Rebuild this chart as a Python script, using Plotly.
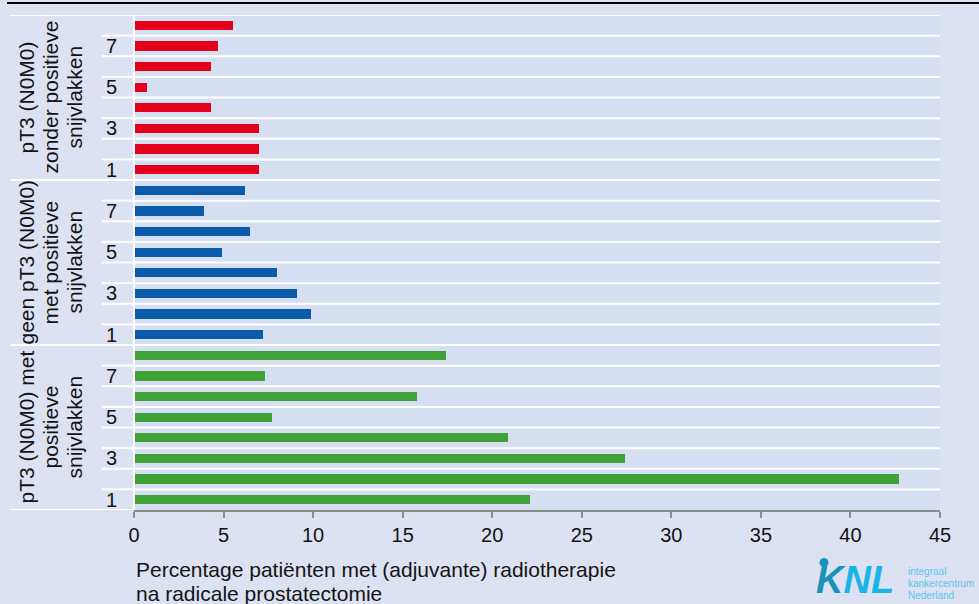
import plotly.graph_objects as go

# Percentage of patients receiving (adjuvant) radiotherapy after radical prostatectomy,
# per hospital rank (1..8) within each patient group.
ranks = [1, 2, 3, 4, 5, 6, 7, 8]
rank_labels = ["1", "", "3", "", "5", "", "7", ""]

group_lines = [
    ["pT3 (N0M0) met", "positieve", "snijvlakken"],
    ["geen pT3 (N0M0)", "met positieve", "snijvlakken"],
    ["pT3 (N0M0)", "zonder positieve", "snijvlakken"],
]
pos_margin_pt3 = [22.1, 42.7, 27.4, 20.9, 7.7, 15.8, 7.3, 17.4]
pos_margin_not_pt3 = [7.2, 9.9, 9.1, 8.0, 4.9, 6.5, 3.9, 6.2]
neg_margin_pt3 = [7.0, 7.0, 7.0, 4.3, 0.7, 4.3, 4.7, 5.5]

series = [pos_margin_pt3, pos_margin_not_pt3, neg_margin_pt3]
colors = ["#3FA136", "#0A5BAA", "#E2001A"]

x_ticks = [0, 5, 10, 15, 20, 25, 30, 35, 40, 45]
axis_title_lines = ["Percentage patiënten met (adjuvante) radiotherapie",
                    "na radicale prostatectomie"]

FONT = "Liberation Sans, Arial, sans-serif"
PAGE_BG = "#DCE2F2"
PLOT_BG = "#D6DEF2"
TEXT = "#141414"

# plot-area geometry in pixels
W, H = 979, 604
L, R, T, B = 134, 940, 15, 510


def px_x(x):
    return (x - L) / (R - L)


def px_y(y):
    return 1 - (y - T) / (B - T)


n = len(ranks)
fig = go.Figure()

tickvals, ticktext = [], []
for g, (vals, col) in enumerate(zip(series, colors)):
    ys = [g * n + (r - 1) for r in ranks]
    fig.add_trace(go.Bar(
        x=vals, y=ys, orientation="h", width=0.45,
        marker=dict(color=col, line=dict(width=0)),
        hoverinfo="x", showlegend=False,
    ))
    tickvals += ys
    ticktext += rank_labels

total = n * len(series)
shapes = []
# white row separators across the plot area and the rank-label column
for k in range(total + 1):
    yb = k - 0.5
    is_group_edge = (k % n == 0)
    if k > 0:
        shapes.append(dict(type="line", xref="paper", yref="y", x0=0, x1=1,
                           y0=yb, y1=yb, line=dict(color="white", width=2), layer="below"))
    x_left = px_x(10) if is_group_edge else px_x(102)
    shapes.append(dict(type="line", xref="paper", yref="y", x0=x_left, x1=0,
                       y0=yb, y1=yb, line=dict(color="white", width=2)))
# vertical white line along the category axis
shapes.append(dict(type="line", xref="paper", yref="y", x0=0, x1=0,
                   y0=-0.5, y1=total - 0.5, line=dict(color="white", width=2)))
# black rule at the top of the page
shapes.append(dict(type="line", xref="paper", yref="paper", x0=px_x(7), x1=px_x(985),
                   y0=px_y(3), y1=px_y(3), line=dict(color="black", width=2)))
# dot of the logo's "i"
shapes.append(dict(type="circle", xref="paper", yref="paper",
                   x0=px_x(819.5), x1=px_x(828.5), y0=px_y(567), y1=px_y(558),
                   fillcolor="#1A93B8", line=dict(width=0)))

annotations = []
for g, lines in enumerate(group_lines):
    for cx, line in zip([26, 50, 74], lines):
        annotations.append(dict(
            text=line, textangle=-90, xref="paper", yref="y",
            x=px_x(cx), y=g * n + (n - 1) / 2,
            xanchor="center", yanchor="middle", showarrow=False,
            font=dict(family=FONT, size=21, color=TEXT),
        ))
for cy, line in zip([569, 593], axis_title_lines):
    annotations.append(dict(
        text=line, xref="paper", yref="paper",
        x=px_x(134), y=px_y(cy), xanchor="left", yanchor="middle",
        showarrow=False, align="left",
        font=dict(family=FONT, size=21, color=TEXT),
    ))
annotations.append(dict(
    text="<b><i><span style='color:#1A93B8'>K</span>NL</i></b>",
    xref="paper", yref="paper",
    x=px_x(814), y=px_y(580), xanchor="left", yanchor="middle",
    showarrow=False, font=dict(family=FONT, size=38, color="#1BB4E6"),
))
for cy, line in zip([571, 583, 595], ["integraal", "kankercentrum", "Nederland"]):
    annotations.append(dict(
        text=line, xref="paper", yref="paper",
        x=px_x(906), y=px_y(cy), xanchor="left", yanchor="middle",
        showarrow=False, align="left",
        font=dict(family=FONT, size=10, color="#5BC6EE"),
    ))

fig.update_layout(
    width=W, height=H,
    margin=dict(l=L, r=W - R, t=T, b=H - B),
    paper_bgcolor=PAGE_BG, plot_bgcolor=PLOT_BG,
    bargap=0, barmode="overlay",
    shapes=shapes, annotations=annotations,
    font=dict(family=FONT, size=20, color=TEXT),
    xaxis=dict(
        range=[0, 45], tickvals=x_ticks, ticktext=[str(v) for v in x_ticks],
        showgrid=False, zeroline=False,
        showline=True, linecolor="#8C8C8C", linewidth=2,
        ticks="outside", ticklen=6, tickwidth=2, tickcolor="#8C8C8C",
        ticklabelstandoff=0,
        tickfont=dict(family=FONT, size=20, color=TEXT),
    ),
    yaxis=dict(
        range=[-0.5, total - 0.5], tickvals=tickvals, ticktext=ticktext,
        showgrid=False, zeroline=False, showline=False, ticks="",
        ticklabelstandoff=16,
        tickfont=dict(family=FONT, size=20, color=TEXT),
    ),
)

fig.write_html("out.html")
